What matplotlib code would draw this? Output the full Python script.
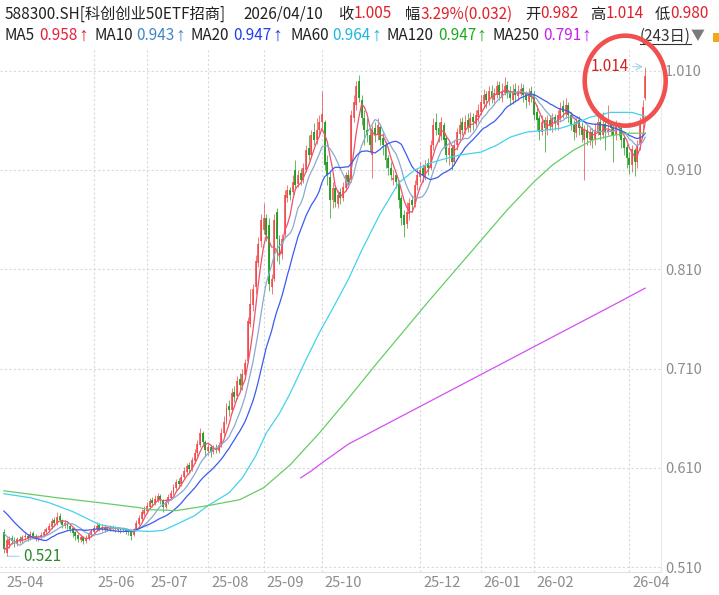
import matplotlib
matplotlib.use("Agg")
import matplotlib.pyplot as plt
import numpy as np
import pandas as pd
from matplotlib.lines import Line2D
from matplotlib.patches import Ellipse, Rectangle
from matplotlib.transforms import ScaledTranslation, IdentityTransform

plt.rcParams["font.family"] = ["Noto Sans CJK SC", "DejaVu Sans"]

W, H = 719, 595

# closes of the 19 sessions before the window (needed for MA5/10/20)
pre_close = [0.588, 0.595, 0.598, 0.594, 0.590, 0.592, 0.588, 0.585, 0.585, 0.575,
             0.565, 0.558, 0.552, 0.556, 0.558, 0.552, 0.522, 0.520, 0.530]

# daily OHLC, 2025-04-10 .. 2026-04-10 (243 sessions)
opens = [
    # 25-04
    .545, .524, .532, .539, .537, .533, .538, .536, .540, .541, .539, .544, .541, .538, .540,
    # 25-05
    .542, .545, .547, .551, .558, .555, .562, .558, .552, .555, .552, .549, .545, .542, .537, .540, .536, .538, .542,
    # 25-06
    .545, .548, .553, .548, .551, .548, .550, .548, .551, .547, .549, .547, .549, .547, .545, .542, .548, .554, .559, .564,
    # 25-07
    .567, .571, .578, .575, .578, .582, .578, .571, .576, .580, .585, .590, .597, .594, .601, .606, .613, .609, .617, .625, .633, .645, .636,
    # 25-08
    .627, .631, .626, .630, .627, .633, .645, .657, .672, .668, .686, .682, .700, .692, .704, .718, .755, .774, .792, .816, .838,
    # 25-09
    .850, .862, .855, .792, .800, .868, .840, .825, .846, .882, .890, .888, .910, .896, .907, .900, .910, .932, .925, .948, .940, .950,
    # 25-10
    .958, .958, .918, .903, .880, .892, .876, .888, .882, .892, .905, .900, .962, .975, 1.000, .980, .962,
    # 25-11
    .950, .945, .925, .952, .945, .953, .942, .935, .922, .912, .900, .905, .898, .882, .865, .856, .866, .880, .876, .895,
    # 25-12
    .903, .912, .905, .917, .912, .935, .958, .952, .944, .955, .942, .925, .932, .918, .935, .946, .958, .950, .960, .952, .963, .956, .963,
    # 26-01
    .968, .976, .986, .980, .990, .980, .985, .996, .982, .988, .996, .990, .980, .992, .984, .987, .993, .986, .978, .990,
    # 26-02
    .985, .968, .962, .948, .960, .950, .960, .953, .963, .955, .962, .974, .966, .975,
    # 26-03
    .965, .955, .947, .960, .953, .940, .950, .940, .948, .940, .948, .958, .945, .956, .948, .955, .952, .945, .955, .952, .942, .933,
    # 26-04
    .922, .915, .930, .918, .936, .958, .982,
]
highs = [
    .548, .540, .541, .542, .540, .540, .541, .542, .544, .543, .546, .546, .543, .542, .545,
    .548, .551, .555, .560, .561, .566, .565, .559, .558, .557, .553, .550, .546, .543, .542, .541, .542, .545, .549,
    .553, .556, .555, .554, .553, .552, .553, .553, .552, .551, .551, .551, .550, .549, .546, .550, .558, .563, .569, .572,
    .576, .580, .581, .583, .585, .584, .579, .579, .584, .588, .594, .599, .600, .604, .611, .615, .616, .621, .629, .638, .650, .647, .638,
    .634, .633, .633, .634, .636, .650, .662, .675, .678, .690, .692, .703, .706, .710, .720, .762, .790, .795, .824, .843, .866,
    .877, .866, .862, .805, .866, .872, .845, .846, .890, .895, .893, .905, .920, .910, .912, .917, .935, .945, .950, .957, .962, .965,
    .990, .960, .925, .908, .898, .895, .890, .892, .898, .908, .910, .970, .985, 1.000, 1.006, .985, .970,
    .962, .952, .955, .958, .962, .956, .948, .938, .925, .918, .910, .908, .900, .885, .870, .878, .882, .885, .900, .912,
    .918, .916, .920, .922, .940, .962, .967, .958, .963, .958, .945, .938, .935, .940, .952, .962, .963, .965, .967, .968, .967, .970, .976,
    .985, .992, .990, .995, .996, .993, 1.000, 1.000, .998, 1.004, 1.000, .995, .997, .998, .996, .998, .997, .990, .993, .995,
    .990, .975, .965, .965, .963, .965, .965, .967, .966, .970, .978, .980, .982, .978,
    .968, .960, .962, .964, .958, .955, .955, .953, .952, .957, .965, .962, .968, .960, .975, .958, .958, .960, .958, .955, .945, .936,
    .928, .935, .932, .940, .963, .980, 1.014,
]
lows = [
    .524, .521, .529, .533, .530, .531, .534, .534, .537, .536, .537, .539, .536, .536, .538,
    .540, .543, .545, .549, .552, .553, .555, .550, .550, .549, .545, .540, .537, .535, .535, .533, .534, .537, .540,
    .543, .546, .546, .546, .545, .546, .546, .546, .545, .545, .544, .545, .543, .542, .537, .541, .547, .553, .557, .562,
    .565, .569, .571, .573, .576, .574, .566, .569, .574, .578, .583, .588, .590, .592, .599, .604, .605, .607, .615, .622, .631, .632, .621,
    .623, .621, .624, .625, .625, .631, .642, .654, .662, .665, .676, .679, .688, .688, .700, .716, .752, .768, .785, .812, .832,
    .846, .838, .788, .785, .798, .818, .815, .820, .843, .878, .880, .885, .892, .893, .895, .897, .908, .920, .922, .935, .936, .945,
    .952, .910, .895, .862, .872, .873, .872, .876, .879, .889, .893, .898, .958, .970, .978, .955, .935,
    .938, .928, .902, .938, .940, .935, .925, .912, .905, .900, .895, .892, .872, .855, .843, .852, .860, .868, .873, .890,
    .898, .898, .900, .905, .910, .930, .945, .938, .940, .932, .918, .915, .910, .915, .930, .940, .945, .946, .948, .948, .950, .952, .958,
    .965, .972, .972, .975, .977, .975, .982, .980, .978, .985, .982, .975, .976, .978, .980, .984, .978, .972, .975, .978,
    .960, .950, .940, .945, .928, .945, .950, .948, .950, .950, .958, .962, .962, .958,
    .950, .940, .943, .945, .938, .900, .935, .935, .932, .935, .945, .940, .942, .930, .945, .945, .918, .940, .944, .932, .925, .912,
    .906, .908, .904, .912, .930, .950, .980,
]
closes = [
    .528, .537, .538, .536, .534, .538, .537, .540, .541, .539, .543, .541, .539, .540, .542,
    .545, .548, .552, .557, .555, .561, .558, .553, .555, .552, .549, .544, .541, .538, .540, .536, .539, .543, .546,
    .550, .552, .549, .551, .548, .550, .549, .551, .548, .549, .547, .549, .546, .545, .541, .548, .555, .560, .566, .568,
    .572, .577, .575, .579, .582, .578, .571, .576, .581, .585, .591, .596, .594, .601, .607, .612, .609, .618, .625, .634, .645, .636, .628,
    .631, .626, .630, .628, .633, .645, .656, .670, .668, .685, .681, .698, .693, .705, .716, .758, .775, .790, .818, .835, .860,
    .862, .845, .795, .800, .860, .840, .822, .840, .885, .890, .885, .898, .895, .905, .900, .912, .930, .925, .945, .940, .950, .958,
    .966, .915, .905, .880, .892, .878, .885, .882, .893, .905, .898, .965, .978, .995, .982, .962, .950,
    .945, .935, .950, .945, .955, .940, .935, .920, .912, .905, .902, .898, .880, .862, .855, .868, .877, .875, .895, .905,
    .910, .905, .915, .912, .935, .955, .950, .945, .958, .940, .925, .932, .918, .935, .948, .955, .950, .958, .953, .962, .958, .965, .970,
    .978, .985, .980, .990, .982, .988, .995, .985, .990, .995, .988, .982, .990, .985, .990, .992, .985, .980, .988, .983,
    .965, .960, .948, .958, .952, .960, .955, .962, .957, .965, .972, .968, .975, .965,
    .955, .948, .958, .952, .945, .950, .942, .948, .940, .950, .958, .945, .955, .948, .950, .952, .945, .955, .952, .940, .932, .922,
    .915, .931, .918, .935, .959, .973, 1.005,
]

ma60_idx = [0, 10, 17, 26, 36, 48, 55, 60, 65, 72, 77, 85, 90, 95, 99, 104, 108, 114, 119, 125, 130, 135, 142,
            149, 155, 161, 166, 172, 180, 186, 191, 197, 204, 210, 216, 221, 229, 237, 242]
ma60_val = [.584, .580, .575, .566, .553, .547, .546, .547, .553, .562, .572, .585, .600, .622, .645, .665, .685, .719,
            .746, .775, .800, .829, .866, .897, .910, .917, .921, .925, .928, .935, .943, .948, .950, .952, .957, .963,
            .968, .968, .964]
ma120_idx = [0, 20, 36, 51, 55, 65, 77, 89, 98, 108, 119, 130, 140, 150, 160, 170, 180, 190, 200, 207, 215, 222,
             230, 236, 242]
ma120_val = [.587, .580, .575, .570, .568, .567, .572, .578, .590, .613, .645, .680, .713, .745, .777, .808, .839, .870,
             .898, .915, .930, .940, .945, .947, .947]
ma250_idx = [112, 116, 120, 130, 140, 150, 160, 170, 180, 190, 200, 210, 220, 230, 242]
ma250_val = [.600, .607, .615, .634, .648, .662, .676, .690, .704, .718, .732, .746, .760, .774, .791]

month_idx = [0, 34, 54, 77, 98, 120, 157, 180, 200, 236]
month_lbl = ["25-04", "25-06", "25-07", "25-08", "25-09", "25-10", "25-12", "26-01", "26-02", "26-04"]
price_ticks = [0.510, 0.610, 0.710, 0.810, 0.910, 1.010]

BLACK = "#222222"
RED = "#e0202a"
UP = "#f03c3c"
DOWN = "#1c9a1c"
GRID = "#d9d9d9"
AXIS_TXT = "#8c8c8c"
MA_LINE = {"MA5": "#f0506e", "MA10": "#8aaad0", "MA20": "#3a5cf0",
           "MA60": "#44d2ea", "MA120": "#66cc66", "MA250": "#d450f0"}
MA_TXT = {"MA5": "#e8203c", "MA10": "#3f86c8", "MA20": "#1f3ef0",
          "MA60": "#1fb8e0", "MA120": "#1fa81f", "MA250": "#c81ff0"}

o = np.array(opens)
h = np.array(highs)
l = np.array(lows)
c = np.array(closes)
n = len(c)
x = np.arange(n)

full = pd.Series(pre_close + closes)
ma = {}
for k in (5, 10, 20):
    ma[f"MA{k}"] = full.rolling(k).mean().to_numpy()[len(pre_close):]

fig = plt.figure(figsize=(W / 100, H / 100), dpi=100)
ax = fig.add_axes([0, 23 / H, 661 / W, 522 / H])
ax.set_xlim(-1.47, 247.96)
ax.set_ylim(0.5052, 1.0308)

for p in price_ticks:
    ax.axhline(p, color=GRID, lw=0.8, ls=(0, (2, 2)), zorder=0)
for i in month_idx[1:]:
    ax.axvline(i, color=GRID, lw=0.8, ls=(0, (2, 2)), zorder=0)

# candles
up = c >= o
dn = ~up
ax.vlines(x[up], l[up], h[up], color=UP, lw=0.6, alpha=0.8, zorder=2)
ax.vlines(x[dn], l[dn], h[dn], color=DOWN, lw=0.6, alpha=0.8, zorder=2)
ax.bar(x[up], np.maximum(c - o, 0.0012)[up], bottom=o[up], width=0.75, color=UP, alpha=0.75, lw=0, zorder=2)
ax.bar(x[dn], (o - c)[dn], bottom=c[dn], width=0.75, color=DOWN, alpha=0.9, lw=0, zorder=2)

# moving averages
for name in ("MA5", "MA10", "MA20"):
    ax.plot(x, ma[name], color=MA_LINE[name], lw=0.9, zorder=3)
ax.plot(ma60_idx, ma60_val, color=MA_LINE["MA60"], lw=0.9, zorder=3)
ax.plot(ma120_idx, ma120_val, color=MA_LINE["MA120"], lw=0.9, zorder=3)
ax.plot(ma250_idx, ma250_val, color=MA_LINE["MA250"], lw=0.9, zorder=3)

# axes styling
for side in ("top", "left"):
    ax.spines[side].set_visible(False)
ax.spines["right"].set_color("#ececec")
ax.spines["bottom"].set_color("#e2e2e2")
ax.yaxis.tick_right()
ax.set_yticks(price_ticks)
ax.set_yticklabels([f"{p:.3f}" for p in price_ticks])
ax.tick_params(axis="y", length=0, pad=3, labelcolor=AXIS_TXT, labelsize=10.5)
ax.set_xticks(month_idx)
ax.set_xticklabels(month_lbl)
ax.tick_params(axis="x", length=0, pad=3, labelcolor=AXIS_TXT, labelsize=10.5)
for lab in ax.get_xticklabels():
    lab.set_horizontalalignment("left")
    lab.set_transform(lab.get_transform() + ScaledTranslation(3 / 100, 0, fig.dpi_scale_trans))

# high / low markers
imax = int(np.argmax(h))
imin = int(np.argmin(l))
ax.annotate(f"{h[imax]:.3f}", xy=(imax, h[imax]), xytext=(-12, 0), textcoords="offset points",
            ha="right", va="center", color="#d42020", fontsize=11,
            arrowprops=dict(arrowstyle="->", color="#a6d2ea", lw=0.8, shrinkA=1, shrinkB=1.5))
ax.annotate(f"{l[imin]:.3f}", xy=(imin, l[imin]), xytext=(12, 0), textcoords="offset points",
            ha="left", va="center", color="#2a8a2a", fontsize=11,
            arrowprops=dict(arrowstyle="-", color="#a6d2ea", lw=0.8, shrinkA=1, shrinkB=0))

# red circle around the last session
cx, cy = ax.transData.transform((imax, h[imax]))
fig.add_artist(Ellipse((cx - 20, cy - 14), 81, 90, transform=IdentityTransform(),
                       fill=False, edgecolor="#f05050", lw=3.3, zorder=10))

# header
renderer = fig.canvas.get_renderer()
ARROW_FONT = ["Liberation Sans", "DejaVu Sans"]


def text_run(x_px, y_px, pieces, size=11):
    for s, col, gap, *extra in pieces:
        kw = {"family": extra[0], "fontsize": extra[1]} if extra else {"fontsize": size}
        t = fig.text(x_px / W, 1 - y_px / H, s, color=col, va="center", ha="left", **kw)
        x_px += t.get_window_extent(renderer).width + gap
    return x_px


chg = c[-1] - c[-2]
text_run(5, 14, [("588300.SH[科创创业50ETF招商]", BLACK, 0)])
text_run(243, 14, [("2026/04/10", BLACK, 0)])
text_run(338, 14, [("收", BLACK, 0), (f"{c[-1]:.3f}", RED, 0)])
text_run(405, 14, [("幅", BLACK, 0), (f"{chg / c[-2] * 100:.2f}%({chg:.3f})", RED, 0)])
text_run(525, 14, [("开", BLACK, 0), (f"{o[-1]:.3f}", RED, 0)])
text_run(590, 14, [("高", BLACK, 0), (f"{h[-1]:.3f}", RED, 0)])
text_run(655, 14, [("低", BLACK, 0), (f"{l[-1]:.3f}", RED, 0)])

last_ma = {"MA5": ma["MA5"][-1], "MA10": ma["MA10"][-1], "MA20": ma["MA20"][-1],
           "MA60": ma60_val[-1], "MA120": ma120_val[-1], "MA250": ma250_val[-1]}
ma_x = {"MA5": 5, "MA10": 94, "MA20": 191, "MA60": 290, "MA120": 387, "MA250": 492}
for name, val in last_ma.items():
    text_run(ma_x[name], 36, [(name, BLACK, 4), (f"{val:.3f}", MA_TXT[name], 0.5),
                              ("↑", MA_TXT[name], 0, ARROW_FONT, 14)])

t = fig.text(640 / W, 1 - 36 / H, "(243日)", color="#333333", fontsize=11, va="center", ha="left")
bb = t.get_window_extent(renderer)
fig.add_artist(Line2D([bb.x0, bb.x1], [bb.y0 + 1, bb.y0 + 1], transform=IdentityTransform(),
                      color="#333333", lw=0.8))
fig.text(bb.x1 / W, 1 - 36 / H, "▼", color="#7a7a7a", fontsize=10, va="center", ha="left")
fig.add_artist(Rectangle((713, H - 42), 8, 9, transform=IdentityTransform(), color="#f2a81d", lw=0))

fig.savefig("out.png", dpi=100)
